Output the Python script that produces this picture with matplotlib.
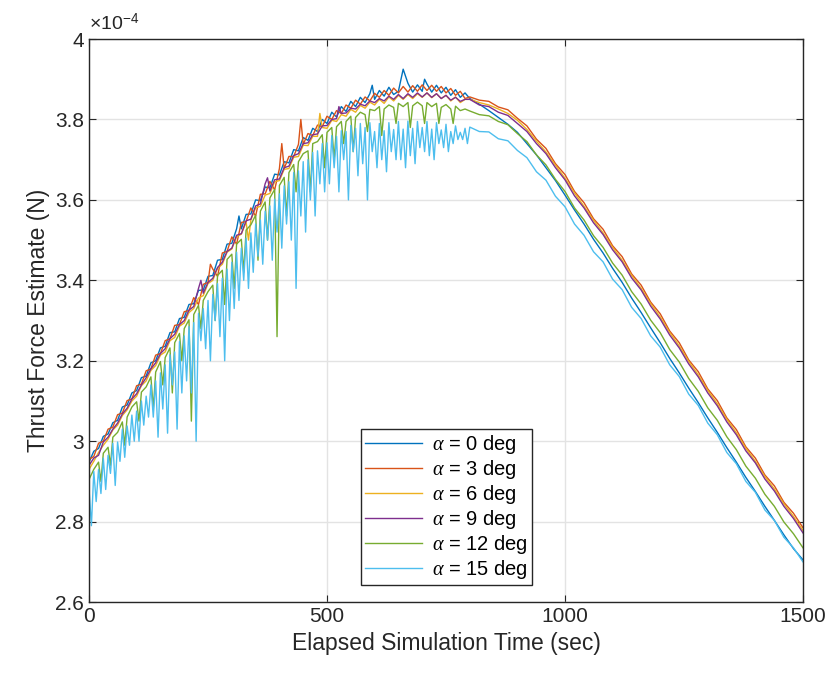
import numpy as np
import matplotlib.pyplot as plt

# time grids (sec): dense on the noisy climb, coarser on the smooth descent
t_rise = np.arange(0, 800, 10)
t_fall = np.arange(800, 1501, 20)

# thrust estimates, units of 1e-7 N
rise_0 = [2948, 2975, 2982, 3012, 3018, 3046, 3052, 3085, 3090, 3120,
          3126, 3158, 3162, 3195, 3200, 3232, 3236, 3270, 3272, 3305,
          3308, 3340, 3342, 3375, 3376, 3410, 3412, 3450, 3452, 3490,
          3492, 3528, 3528, 3564, 3565, 3600, 3598, 3632, 3630, 3664,
          3662, 3695, 3692, 3725, 3722, 3755, 3748, 3778, 3770, 3800,
          3790, 3818, 3806, 3832, 3820, 3845, 3832, 3855, 3842, 3864,
          3850, 3872, 3858, 3880, 3862, 3870, 3925, 3890, 3868, 3886,
          3870, 3888, 3868, 3885, 3866, 3880, 3860, 3874, 3855, 3866]
fall_0 = [3852, 3838, 3822, 3805, 3788, 3768, 3740, 3712, 3680, 3648,
          3612, 3575, 3540, 3502, 3468, 3430, 3395, 3356, 3320, 3282,
          3245, 3206, 3170, 3132, 3096, 3058, 3022, 2984, 2948, 2910,
          2875, 2838, 2803, 2767, 2733, 2705]
spikes_0 = [(315, 3560), (595, 3885), (705, 3900)]

rise_3 = [2955, 2962, 2995, 3000, 3030, 3035, 3066, 3070, 3101, 3105,
          3138, 3142, 3175, 3180, 3214, 3218, 3250, 3255, 3288, 3290,
          3322, 3325, 3357, 3340, 3390, 3395, 3428, 3410, 3468, 3472,
          3508, 3490, 3544, 3546, 3580, 3560, 3614, 3615, 3646, 3625,
          3678, 3678, 3708, 3708, 3738, 3738, 3765, 3760, 3786, 3782,
          3808, 3800, 3822, 3815, 3836, 3828, 3848, 3838, 3856, 3846,
          3865, 3855, 3872, 3860, 3878, 3866, 3882, 3868, 3884, 3870,
          3886, 3872, 3885, 3870, 3882, 3866, 3877, 3860, 3870, 3852]
fall_3 = [3856, 3848, 3845, 3831, 3824, 3803, 3784, 3751, 3728, 3690,
          3663, 3621, 3593, 3553, 3527, 3486, 3459, 3416, 3388, 3346,
          3317, 3274, 3245, 3202, 3173, 3130, 3101, 3058, 3029, 2986,
          2958, 2916, 2889, 2848, 2821, 2785]
spikes_3 = [(405, 3740), (445, 3800), (255, 3440)]

rise_6 = [2930, 2950, 2972, 2990, 3005, 3028, 3040, 3064, 3078, 3100,
          3112, 3138, 3150, 3176, 3188, 3214, 3222, 3250, 3258, 3286,
          3294, 3320, 3330, 3356, 3362, 3392, 3400, 3430, 3440, 3470,
          3478, 3508, 3515, 3545, 3550, 3580, 3584, 3612, 3616, 3645,
          3648, 3676, 3678, 3706, 3708, 3736, 3735, 3758, 3758, 3780,
          3778, 3798, 3795, 3812, 3808, 3825, 3818, 3835, 3828, 3843,
          3836, 3850, 3840, 3856, 3846, 3860, 3850, 3862, 3852, 3864,
          3855, 3866, 3854, 3864, 3852, 3860, 3846, 3856, 3842, 3850]
fall_6 = [3850, 3842, 3836, 3826, 3815, 3798, 3775, 3746, 3719, 3686,
          3654, 3617, 3584, 3549, 3518, 3482, 3450, 3412, 3380, 3342,
          3309, 3270, 3237, 3198, 3165, 3126, 3093, 3054, 3021, 2982,
          2950, 2912, 2881, 2844, 2813, 2778]
spikes_6 = [(485, 3815), (335, 3500)]

rise_9 = [2940, 2958, 2965, 2998, 3010, 3030, 3045, 3068, 3082, 3105,
          3118, 3140, 3158, 3180, 3195, 3218, 3230, 3255, 3266, 3290,
          3300, 3326, 3335, 3380, 3368, 3395, 3405, 3432, 3445, 3472,
          3480, 3512, 3516, 3548, 3552, 3585, 3590, 3640, 3622, 3650,
          3652, 3680, 3684, 3710, 3715, 3740, 3742, 3762, 3764, 3784,
          3785, 3800, 3802, 3815, 3816, 3828, 3826, 3838, 3834, 3846,
          3842, 3852, 3846, 3858, 3850, 3862, 3852, 3864, 3855, 3866,
          3856, 3866, 3855, 3864, 3852, 3860, 3848, 3855, 3845, 3850]
fall_9 = [3850, 3836, 3832, 3818, 3810, 3790, 3770, 3740, 3715, 3680,
          3650, 3610, 3580, 3543, 3514, 3476, 3446, 3406, 3376, 3336,
          3304, 3264, 3232, 3192, 3160, 3120, 3088, 3048, 3016, 2976,
          2946, 2906, 2876, 2838, 2808, 2772]
spikes_9 = [(235, 3400), (375, 3655), (525, 3832)]

rise_12 = [2905, 2930, 2948, 2970, 2985, 3010, 3022, 3048, 3060, 3085,
           3098, 3122, 3135, 3160, 3172, 3198, 3208, 3232, 3245, 3268,
           3280, 3302, 3315, 3338, 3350, 3372, 3388, 3412, 3425, 3452,
           3465, 3490, 3502, 3525, 3538, 3562, 3572, 3595, 3605, 3626,
           3636, 3656, 3668, 3688, 3695, 3715, 3722, 3740, 3745, 3762,
           3768, 3780, 3782, 3795, 3795, 3808, 3805, 3818, 3812, 3825,
           3822, 3832, 3826, 3836, 3830, 3840, 3832, 3842, 3834, 3843,
           3834, 3842, 3832, 3840, 3830, 3837, 3826, 3833, 3822, 3826]
fall_12 = [3821, 3812, 3809, 3795, 3787, 3765, 3745, 3712, 3687, 3651,
           3621, 3580, 3550, 3511, 3482, 3443, 3413, 3372, 3341, 3301,
           3270, 3228, 3197, 3156, 3124, 3083, 3052, 3011, 2979, 2938,
           2908, 2868, 2838, 2799, 2770, 2735]
spikes_12 = [(25, 2900), (45, 2940), (75, 2990), (105, 3050), (135, 3080),
             (155, 3140), (175, 3120), (195, 3200), (215, 3050), (235, 3280),
             (265, 3300), (285, 3340), (305, 3380), (325, 3420), (355, 3450),
             (375, 3500), (395, 3260), (415, 3560), (435, 3620), (465, 3620),
             (495, 3680), (515, 3700), (535, 3740), (555, 3720), (585, 3770),
             (615, 3760), (645, 3790), (675, 3780), (705, 3790), (735, 3790),
             (765, 3790)]

rise_15 = [2880, 2925, 2930, 2958, 2965, 2995, 2998, 3030, 3038, 3065,
           3075, 3100, 3112, 3140, 3150, 3170, 3190, 3215, 3222, 3248,
           3262, 3285, 3295, 3318, 3330, 3350, 3365, 3392, 3405, 3428,
           3445, 3470, 3480, 3505, 3518, 3540, 3550, 3572, 3585, 3602,
           3615, 3635, 3645, 3668, 3672, 3695, 3700, 3718, 3722, 3740,
           3742, 3760, 3758, 3772, 3770, 3785, 3778, 3790, 3780, 3792,
           3770, 3790, 3772, 3792, 3775, 3795, 3776, 3796, 3778, 3795,
           3780, 3795, 3776, 3792, 3774, 3788, 3770, 3784, 3768, 3778]
fall_15 = [3781, 3770, 3769, 3752, 3747, 3723, 3705, 3670, 3649, 3609,
           3583, 3540, 3512, 3471, 3446, 3403, 3377, 3333, 3305, 3262,
           3234, 3190, 3161, 3117, 3089, 3045, 3016, 2972, 2944, 2900,
           2873, 2829, 2803, 2761, 2735, 2700]
spikes_15 = [(5, 2790), (15, 2850), (25, 2870), (35, 2880), (45, 2920),
             (55, 2890), (65, 2950), (75, 2960), (85, 2990), (95, 3000),
             (105, 3000), (115, 3040), (125, 3060), (135, 3060), (145, 3010),
             (155, 3080), (165, 3020), (175, 3140), (185, 3030), (195, 3120),
             (205, 3150), (215, 3120), (225, 3000), (235, 3250), (245, 3230),
             (255, 3200), (265, 3300), (275, 3260), (285, 3200), (295, 3300),
             (305, 3330), (315, 3350), (325, 3400), (335, 3380), (345, 3420),
             (355, 3460), (365, 3440), (375, 3500), (385, 3450), (395, 3520),
             (405, 3480), (415, 3540), (425, 3500), (435, 3380), (445, 3560),
             (455, 3520), (465, 3600), (475, 3560), (485, 3640), (495, 3620),
             (505, 3640), (515, 3680), (525, 3620), (535, 3700), (545, 3600),
             (555, 3720), (565, 3660), (575, 3690), (585, 3600), (595, 3720),
             (605, 3680), (615, 3700), (625, 3670), (635, 3720), (645, 3700),
             (655, 3700), (665, 3680), (675, 3710), (685, 3690), (695, 3730),
             (705, 3720), (715, 3710), (725, 3700), (735, 3740), (745, 3730),
             (755, 3720), (765, 3740), (775, 3750), (785, 3750), (795, 3740)]

angles = [0, 3, 6, 9, 12, 15]
rises = [rise_0, rise_3, rise_6, rise_9, rise_12, rise_15]
falls = [fall_0, fall_3, fall_6, fall_9, fall_12, fall_15]
spikes = [spikes_0, spikes_3, spikes_6, spikes_9, spikes_12, spikes_15]
colors = ['#0072BD', '#D95319', '#EDB120', '#7E2F8E', '#77AC30', '#4DBEEE']

plt.rcParams['font.family'] = ['Liberation Sans', 'DejaVu Sans']
plt.rcParams['mathtext.fontset'] = 'custom'
plt.rcParams['mathtext.it'] = 'Liberation Serif:italic'
plt.rcParams['mathtext.rm'] = 'Liberation Sans'

fig = plt.figure(figsize=(8.29, 6.75), dpi=100)
ax = fig.add_axes([0.1074, 0.108, 0.8612, 0.8342])

for ang, r, f, sp, c in zip(angles, rises, falls, spikes, colors):
    # merge the regular samples with the extra spike samples, in time order
    t = np.concatenate([t_rise, t_fall, [p[0] for p in sp]])
    y = np.concatenate([r, f, [p[1] for p in sp]]) / 1000.0  # units of 1e-4 N
    order = np.argsort(t, kind='stable')
    ax.plot(t[order], y[order], color=c, lw=1.0, label=r'$\alpha$ = %d deg' % ang)

ax.set_xlim(0, 1500)
ax.set_ylim(2.6, 4.0)
ax.set_xticks([0, 500, 1000, 1500])
ax.set_yticks([2.6, 2.8, 3.0, 3.2, 3.4, 3.6, 3.8, 4.0])
ax.set_yticklabels(['%g' % v for v in ax.get_yticks()])
ax.grid(True, color='#e3e3e3', lw=1.0)
ax.set_axisbelow(True)
ax.tick_params(direction='in', top=True, right=True, labelsize=15,
               length=5, color='#262626', labelcolor='#262626')
for s in ax.spines.values():
    s.set_color('#262626')
    s.set_linewidth(1.0)

ax.text(0.0, 1.008, r'$\times10^{-4}$', transform=ax.transAxes,
        fontsize=14, color='#262626', ha='left', va='bottom')

ax.set_xlabel('Elapsed Simulation Time (sec)', fontsize=16.5, color='#262626')
ax.set_ylabel('Thrust Force Estimate (N)', fontsize=16.5, color='#262626')

leg = ax.legend(loc='center', bbox_to_anchor=(0.5007, 0.1687), fontsize=14.5,
                handlelength=2.8, handletextpad=0.5, labelspacing=0.1,
                borderpad=0.2, borderaxespad=0, fancybox=False,
                framealpha=1.0, edgecolor='#262626')
leg.get_frame().set_linewidth(1.0)

fig.savefig('out.png', dpi=100)
